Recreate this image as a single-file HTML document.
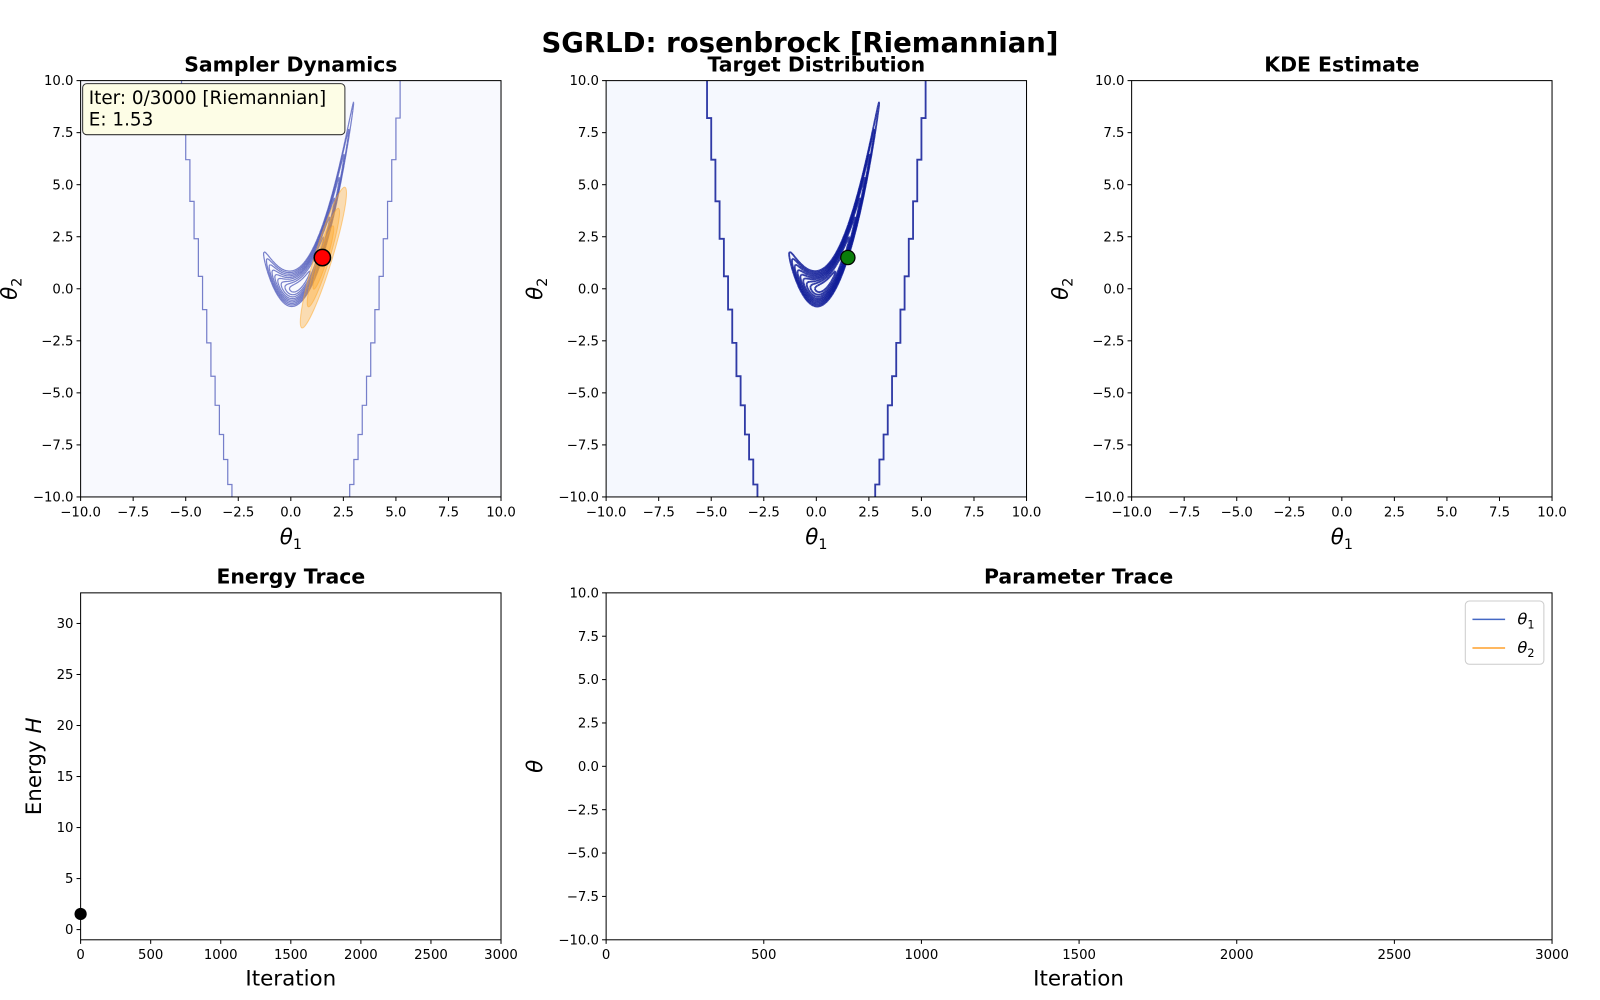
<!DOCTYPE html>
<html><head><meta charset="utf-8"><style>
html,body{margin:0;padding:0;background:#fff;}
svg{display:block;font-family:"DejaVu Sans","Liberation Sans",sans-serif;}
</style></head><body>
<svg id="fig" width="1600" height="1000" viewBox="0 0 1600 1000" xmlns="http://www.w3.org/2000/svg">
<rect width="1600" height="1000" fill="#fff"/>
<g id="root" transform="scale(1.020408)">
<text x="784" y="51" font-size="27" font-weight="bold" text-anchor="middle">SGRLD: rosenbrock [Riemannian]</text>
</g>
</svg>
<script>
// ---- data ----
const xTicks2d = [-10,-7.5,-5,-2.5,0,2.5,5,7.5,10];
const yTicks2d = [-10,-7.5,-5,-2.5,0,2.5,5,7.5,10];
const energyXTicks = [0,500,1000,1500,2000,2500,3000];
const energyYTicks = [0,5,10,15,20,25,30];
const paramXTicks = [0,500,1000,1500,2000,2500,3000];
const paramYTicks = [-10,-7.5,-5,-2.5,0,2.5,5,7.5,10];
const currentTheta = [1.5, 1.5];
const energyIter = [0];
const energyValues = [1.53];
const contourLevels = [0.04,0.1,0.17,0.25,0.33,0.42,0.52,0.63,0.75];
const outerLevel = 18;
const proposalMean = [1.55, 1.5];
const proposalAxes = [3.5, 0.42];
const proposalAngle = 73;

const NS="http://www.w3.org/2000/svg";
const fig=document.getElementById('root');
function mk(tag,attrs,parent){const e=document.createElementNS(NS,tag);for(const k in attrs)e.setAttribute(k,attrs[k]);(parent||fig).appendChild(e);return e;}
function lin(d0,d1,p0,p1){return v=>p0+(v-d0)/(d1-d0)*(p1-p0);}
function fmt(v){let s=Number.isInteger(v)?v.toFixed(1):String(v);return s.replace('-','−');}

function axesBox(x0,y0,x1,y1,name,bg){
  const g=mk('g',{});
  
  
  const r=mk('rect',{x:x0,y:y0,width:x1-x0,height:y1-y0,fill:bg||'#fff'},g);
  
  
  return g;
}
function frame(x0,y0,x1,y1,g){
  const r=mk('rect',{x:x0,y:y0,width:x1-x0,height:y1-y0,fill:'none',stroke:'#000','stroke-width':1},g);
  
  
}
function ticks(g,sx,sy,xt,yt,x0,y0,x1,y1,fmtx,fmty){
  xt.forEach(v=>{const x=sx(v);
    const l=mk('line',{x1:x,x2:x,y1:y1,y2:y1+4,stroke:'#000'},g);
    
    
    const t=mk('text',{x:x,y:y1+19,'font-size':13,'text-anchor':'middle'},g);t.textContent=fmtx(v);
    
    });
  yt.forEach(v=>{const y=sy(v);
    const l=mk('line',{x1:x0-4,x2:x0,y1:y,y2:y,stroke:'#000'},g);
    
    
    const t=mk('text',{x:x0-7,y:y+4.5,'font-size':13,'text-anchor':'end'},g);t.textContent=fmty(v);
    
    });
}
function title(g,x,y,s){const t=mk('text',{x:x,y:y,'font-size':20,'font-weight':'bold','text-anchor':'middle'},g);t.textContent=s;
  
  }
function thetaLabel(g,x,y,i,rot){
  const t=mk('text',{x:x,y:y,'font-size':21,'font-style':'italic','text-anchor':'middle',transform:rot?`rotate(-90 ${x} ${y})`:''},g);
  t.textContent='θ';
  const s=mk('tspan',{'font-size':14,'font-style':'normal',dy:5},t);s.textContent=i;
  
  
}
function plainLabel(g,x,y,s,rot){
  const t=mk('text',{x:x,y:y,'font-size':21,'text-anchor':'middle',transform:rot?`rotate(-90 ${x} ${y})`:''},g);
  t.innerHTML=s;
  
  
}
const f2=v=>fmt(v), fi=v=>String(v);

function q(x,y){const sx=x<0.3?3.4:9.7;return (x-0.3)*(x-0.3)/sx+(y-x*x)*(y-x*x);}
function marching(f,lvl,xmin,xmax,ymin,ymax,n,sx,sy){
  let d='';const dx=(xmax-xmin)/n,dy=(ymax-ymin)/n;
  const V=[];for(let i=0;i<=n;i++){V[i]=[];for(let j=0;j<=n;j++)V[i][j]=f(xmin+i*dx,ymin+j*dy);}
  const ip=(a,b)=>(lvl-a)/(b-a);
  for(let i=0;i<n;i++)for(let j=0;j<n;j++){
    const a=V[i][j],b=V[i+1][j],c=V[i+1][j+1],e=V[i][j+1];
    const x=xmin+i*dx,y=ymin+j*dy;const pts=[];
    if((a<lvl)!==(b<lvl))pts.push([x+ip(a,b)*dx,y]);
    if((b<lvl)!==(c<lvl))pts.push([x+dx,y+ip(b,c)*dy]);
    if((e<lvl)!==(c<lvl))pts.push([x+ip(e,c)*dx,y+dy]);
    if((a<lvl)!==(e<lvl))pts.push([x,y+ip(a,e)*dy]);
    for(let k=0;k+1<pts.length;k+=2)d+=`M${sx(pts[k][0]).toFixed(1)},${sy(pts[k][1]).toFixed(1)}L${sx(pts[k+1][0]).toFixed(1)},${sy(pts[k+1][1]).toFixed(1)}`;
  }
  return d;
}
function outerPath(sx,sy,sign){
  let d='';const step=0.2,xs=0.2;
  for(let y=-10;y<=10.001;y+=step){const x=sign*Math.round(Math.sqrt(y+outerLevel)/xs)*xs;
    d+=(d?'L':'M')+sx(x).toFixed(1)+','+sy(y).toFixed(1)+'L'+sx(x).toFixed(1)+','+sy(Math.min(10,y+step)).toFixed(1);}
  return d;
}
function densityPanel(x0,name,bg,strokeCol,opacity,w){
  const y0=79,y1=487,x1=x0+412;
  const g=axesBox(x0,y0,x1,y1,name,bg);
  const sx=lin(-10,10,x0,x1),sy=lin(-10,10,y1,y0);
  const cp=mk('clipPath',{id:'c'+name},g);mk('rect',{x:x0,y:y0,width:412,height:408},cp);
  const cg=mk('g',{'clip-path':`url(#c${name})`},g);
  [-1,1].forEach(s=>{const p=mk('path',{d:outerPath(sx,sy,s),fill:'none',stroke:strokeCol,'stroke-width':w,opacity:opacity},cg);
    
    });
  contourLevels.forEach(l=>{const p=mk('path',{d:marching(q,l,-1.6,3.6,-1.5,10.5,160,sx,sy),fill:'none',stroke:strokeCol,'stroke-width':w,opacity:opacity},cg);
    
    });
  return {g,sx,sy,x0,y0,x1,y1,cg};
}

// Panel 1
const p1=densityPanel(79,'sampler-dynamics-panel','#f8f9fe','#4b55b8',0.75,1.2);
[1,0.7,0.45].forEach((k,i)=>{
  const cx=p1.sx(proposalMean[0]),cy=p1.sy(proposalMean[1]);
  const rx=proposalAxes[0]*k*20.6,ry=proposalAxes[1]*k*20.6;
  const e=mk('ellipse',{cx:cx,cy:cy,rx:rx,ry:ry,fill:'#ffa726','fill-opacity':0.35,stroke:'#ffa726','stroke-opacity':0.5,transform:`rotate(${-proposalAngle} ${cx} ${cy})`},p1.cg);
  
  
});
frame(p1.x0,p1.y0,p1.x1,p1.y1,p1.g);
ticks(p1.g,p1.sx,p1.sy,xTicks2d,yTicks2d,p1.x0,p1.y0,p1.x1,p1.y1,f2,f2);
title(p1.g,285,70,'Sampler Dynamics');
thetaLabel(p1.g,285,533,'1',false);thetaLabel(p1.g,16,283,'2',true);
const rd=mk('circle',{cx:p1.sx(currentTheta[0]),cy:p1.sy(currentTheta[1]),r:8,fill:'#f00',stroke:'#000','stroke-width':1.5},p1.g);


const ib=mk('rect',{x:81,y:82,width:257,height:50,rx:4,fill:'#fdfde6',stroke:'#333','stroke-width':1},p1.g);


const it1=mk('text',{x:87,y:102,'font-size':18},p1.g);it1.textContent='Iter: 0/3000 [Riemannian]';


const it2=mk('text',{x:87,y:123,'font-size':18},p1.g);it2.textContent='E: '+energyValues[0].toFixed(2);



// Panel 2
const p2=densityPanel(594,'target-distribution-panel','#f5f8fe','#0d1a96',0.85,1.8);
frame(p2.x0,p2.y0,p2.x1,p2.y1,p2.g);
ticks(p2.g,p2.sx,p2.sy,xTicks2d,yTicks2d,p2.x0,p2.y0,p2.x1,p2.y1,f2,f2);
title(p2.g,800,70,'Target Distribution');
thetaLabel(p2.g,800,533,'1',false);thetaLabel(p2.g,531,283,'2',true);
const gd=mk('circle',{cx:p2.sx(currentTheta[0]),cy:p2.sy(currentTheta[1]),r:7,fill:'#0a7d0a',stroke:'#000','stroke-width':1.2},p2.g);



// Panel 3
const g3=axesBox(1109,79,1521,487,'kde-estimate-panel','#fff');
const s3x=lin(-10,10,1109,1521),s3y=lin(-10,10,487,79);
frame(1109,79,1521,487,g3);
ticks(g3,s3x,s3y,xTicks2d,yTicks2d,1109,79,1521,487,f2,f2);
title(g3,1315,70,'KDE Estimate');
thetaLabel(g3,1315,533,'1',false);thetaLabel(g3,1046,283,'2',true);

// Energy trace
const g4=axesBox(79,581,491,921,'energy-trace-panel','#fff');
const ex=lin(0,3000,79,491),ey=lin(-1,33,921,581);
frame(79,581,491,921,g4);
ticks(g4,ex,ey,energyXTicks,energyYTicks,79,581,491,921,fi,fi);
title(g4,285,572,'Energy Trace');
plainLabel(g4,285,966,'Iteration',false);
plainLabel(g4,40,751,'Energy <tspan font-style="italic">H</tspan>',true);
energyIter.forEach((it,i)=>{const c=mk('circle',{cx:ex(it),cy:ey(energyValues[i]),r:6,fill:'#000'},g4);
  
  });

// Parameter trace
const g5=axesBox(594,581,1521,921,'parameter-trace-panel','#fff');
const px=lin(0,3000,594,1521),py=lin(-10,10,921,581);
frame(594,581,1521,921,g5);
ticks(g5,px,py,paramXTicks,paramYTicks,594,581,1521,921,fi,f2);
title(g5,1057,572,'Parameter Trace');
plainLabel(g5,1057,966,'Iteration',false);
const tl=mk('text',{x:531,y:751,'font-size':21,'font-style':'italic','text-anchor':'middle',transform:'rotate(-90 531 751)'},g5);tl.textContent='θ';


const lg=mk('g',{},g5);


mk('rect',{x:1436,y:589,width:77,height:62,rx:4,fill:'#fff',stroke:'#ccc'},lg);
[['1','#4468c4',607],['2','#ffa12b',635]].forEach(([i,c,y])=>{
  const l=mk('line',{x1:1443,x2:1475,y1:y,y2:y,stroke:c,'stroke-width':1.5},lg);
  
  
  const t=mk('text',{x:1487,y:y+5,'font-size':16,'font-style':'italic'},lg);t.textContent='θ';
  const s=mk('tspan',{'font-size':11,'font-style':'normal',dy:4},t);s.textContent=i;
  
  
});
</script>
</body></html>
